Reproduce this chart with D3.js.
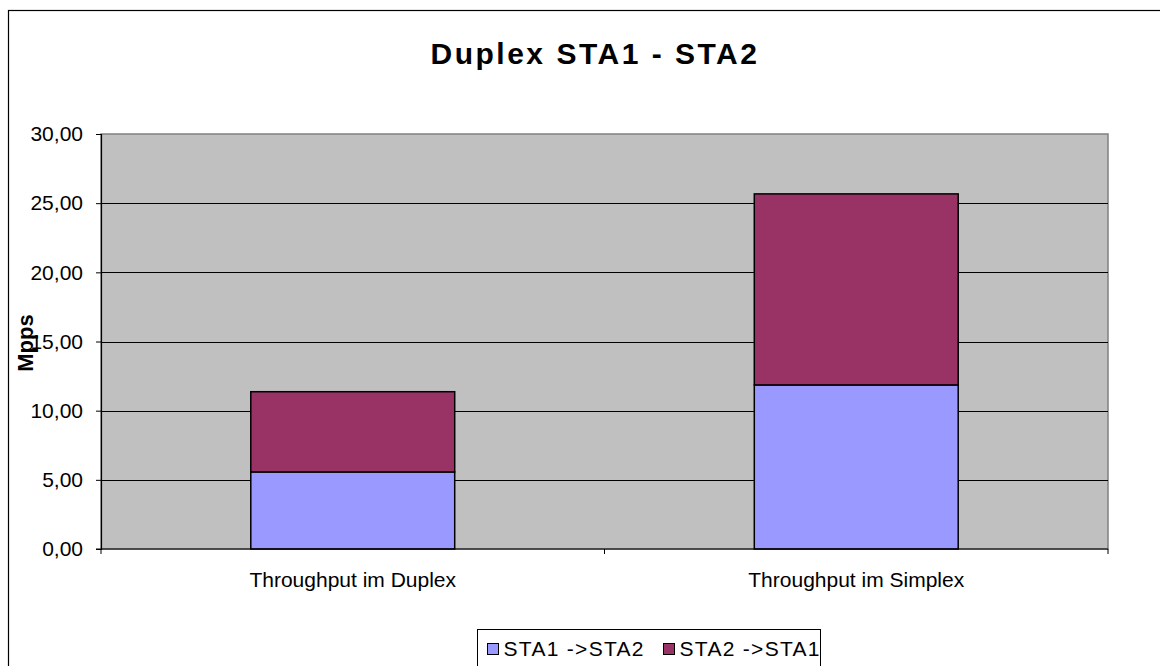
<!DOCTYPE html>
<html>
<head>
<meta charset="utf-8">
<script src="https://cdn.jsdelivr.net/npm/d3@7"></script>
<style>
  body { margin: 0; background: #fff; }
  svg text { font-family: "Liberation Sans", Arial, sans-serif; }
</style>
</head>
<body>
<svg id="chart" width="1160" height="666"></svg>
<script>
// chart data
const categories = ['Throughput im Duplex', 'Throughput im Simplex']
const seriesNames = ['STA1 ->STA2', 'STA2 ->STA1']
const sta1ToSta2 = [5.57, 11.86]
const sta2ToSta1 = [5.80, 13.81]
const yTicks = [0, 5, 10, 15, 20, 25, 30]

const colors = ['#9999FF', '#993366']

const plot = { left: 101, top: 134, right: 1108, bottom: 549 }

let svg = d3.select('#chart')

// outer chart frame (runs past the window on right and bottom)
svg.append('rect')
    .attr('x', 8.5).attr('y', 10.5)
    .attr('width', 1160).attr('height', 700)
    .attr('fill', 'white')
    .attr('stroke', 'black')
    .attr('stroke-width', 1.2)

let x = d3.scaleBand()
    .domain(categories)
    .range([plot.left, plot.right])
    .padding(0)

let y = d3.scaleLinear()
    .domain([0, 30])
    .range([plot.bottom, plot.top])

// plot background
svg.append('rect')
    .attr('x', plot.left).attr('y', plot.top)
    .attr('width', plot.right - plot.left)
    .attr('height', plot.bottom - plot.top)
    .attr('fill', '#C0C0C0')
    .attr('stroke', '#808080')
    .attr('stroke-width', 1.5)

// gridlines
svg.append('g')
    .selectAll('line')
    .data(yTicks.filter(d => d > 0 && d < 30))
    .enter().append('line')
    .attr('x1', plot.left).attr('x2', plot.right)
    .attr('y1', d => Math.round(y(d)) + 0.5)
    .attr('y2', d => Math.round(y(d)) + 0.5)
    .attr('stroke', 'black')
    .attr('stroke-width', 1)

// stacked bars
let stacked = d3.stack().keys([0, 1])(categories.map((c, i) => [sta1ToSta2[i], sta2ToSta1[i]]))
let barW = x.bandwidth() * 0.405

let layers = svg.append('g')
    .selectAll('g')
    .data(stacked)
    .enter().append('g')
    .attr('fill', (d, i) => colors[i])

layers.selectAll('rect')
    .data(d => d)
    .enter().append('rect')
    .attr('x', (d, i) => x(categories[i]) + (x.bandwidth() - barW) / 2)
    .attr('y', d => y(d[1]))
    .attr('width', barW)
    .attr('height', d => y(d[0]) - y(d[1]))
    .attr('stroke', 'black')
    .attr('stroke-width', 1.5)

// y axis
let yAxis = svg.append('g')
    .attr('transform', `translate(${plot.left},0)`)
    .call(d3.axisLeft(y).tickValues(yTicks).tickSize(5).tickPadding(13)
        .tickFormat(d => d3.format('.2f')(d).replace('.', ',')))
yAxis.attr('font-size', 21).attr('font-family', null)
yAxis.select('.domain').attr('stroke', 'black').attr('stroke-width', 1.2)
yAxis.selectAll('.tick line').attr('stroke', 'black')
yAxis.selectAll('.tick text').attr('fill', 'black')

// x axis with ticks at category boundaries
let xAxis = svg.append('g')
    .attr('transform', `translate(0,${plot.bottom})`)
xAxis.append('line')
    .attr('x1', plot.left - 5).attr('x2', plot.right)
    .attr('y1', 0).attr('y2', 0)
    .attr('stroke', 'black').attr('stroke-width', 1.2)
let bounds = categories.map(c => x(c)).concat([plot.right])
xAxis.selectAll('line.tk')
    .data(bounds)
    .enter().append('line')
    .attr('class', 'tk')
    .attr('x1', d => d).attr('x2', d => d)
    .attr('y1', 0).attr('y2', 5)
    .attr('stroke', 'black')
xAxis.selectAll('text')
    .data(categories)
    .enter().append('text')
    .attr('x', d => x(d) + x.bandwidth() / 2)
    .attr('y', 38)
    .attr('text-anchor', 'middle')
    .attr('font-size', 21)
    .text(d => d)

// title
svg.append('text')
    .attr('x', 595).attr('y', 64)
    .attr('text-anchor', 'middle')
    .attr('font-size', 30)
    .attr('font-weight', 'bold')
    .attr('letter-spacing', 2.5)
    .text('Duplex STA1 - STA2')

// y axis label
svg.append('text')
    .attr('transform', 'translate(33,343) rotate(-90)')
    .attr('text-anchor', 'middle')
    .attr('font-size', 22)
    .attr('font-weight', 'bold')
    .text('Mpps')

// legend
let legend = svg.append('g').attr('transform', 'translate(477.5,629.5)')
legend.append('rect')
    .attr('width', 343).attr('height', 45)
    .attr('fill', 'white')
    .attr('stroke', 'black')
let legendX = [10, 186]
let items = legend.selectAll('g.item')
    .data(seriesNames)
    .enter().append('g')
    .attr('class', 'item')
    .attr('transform', (d, i) => `translate(${legendX[i]},0)`)
items.append('rect')
    .attr('x', 0).attr('y', 14)
    .attr('width', 11).attr('height', 11)
    .attr('fill', (d, i) => colors[i])
    .attr('stroke', 'black')
items.append('text')
    .attr('x', 16).attr('y', 26)
    .attr('font-size', 21)
    .attr('letter-spacing', 1.3)
    .text(d => d)
</script>
</body>
</html>
